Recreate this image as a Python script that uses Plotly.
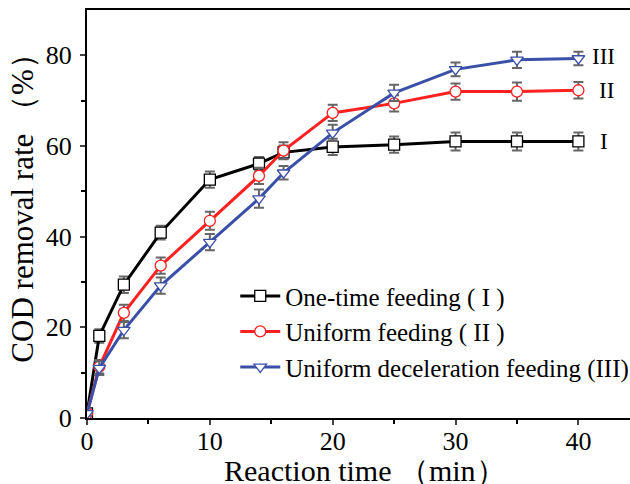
import plotly.graph_objects as go

time = [0, 1, 3, 6, 10, 14, 16, 20, 25, 30, 35, 40]
one_time = [1.0, 18.1, 29.4, 40.9, 52.6, 56.1, 58.6, 59.8, 60.3, 61.0, 61.0, 61.0]
uniform = [1.0, 11.3, 23.2, 33.6, 43.5, 53.4, 59.0, 67.3, 69.4, 72.0, 72.0, 72.3]
decel = [1.0, 11.0, 19.4, 29.2, 38.8, 48.4, 54.1, 62.9, 71.7, 76.9, 79.0, 79.3]
err_one = [0.5, 1.5, 1.8, 1.5, 1.8, 1.5, 1.5, 1.8, 1.8, 2.0, 2.0, 2.0]
err_uni = [0.5, 1.5, 1.8, 1.8, 2.0, 1.8, 1.8, 1.8, 1.8, 1.8, 2.0, 1.8]
err_dec = [0.5, 1.5, 1.8, 1.8, 1.8, 2.0, 1.5, 1.8, 1.8, 1.5, 1.8, 1.5]

names = ["One-time feeding ( I )", "Uniform feeding ( II )", "Uniform deceleration feeding (III)"]
labels = ["I", "II", "III"]
x_title = "Reaction time （min）"
y_title = "COD removal rate （%）"

FONT = "Liberation Serif, Times New Roman, serif"
ERR_COLOR = "#666666"

series = [
    (one_time, err_one, "#000000", "square", names[0]),
    (uniform, err_uni, "#ff2020", "circle", names[1]),
    (decel, err_dec, "#3a4fa8", "triangle-down", names[2]),
]

fig = go.Figure()
for vals, errs, color, sym, name in series:
    fig.add_trace(go.Scatter(
        x=time, y=vals, name=name, mode="lines+markers",
        line=dict(color=color, width=3),
        marker=dict(symbol=sym, size=11, color="white", line=dict(color=color, width=1.3)),
        error_y=dict(type="data", array=errs, visible=True, color=ERR_COLOR, thickness=2, width=5),
    ))

# end labels
for vals, lab, xoff, yoff in zip([one_time, uniform, decel], labels, [26, 28, 25], [0, 0, 2]):
    fig.add_annotation(x=time[-1], y=vals[-1], text=lab, showarrow=False,
                       xanchor="center", yanchor="middle", xshift=xoff, yshift=yoff,
                       font=dict(family=FONT, size=23, color="black"))

# axis titles
fig.add_annotation(x=0.512, y=-0.128, xref="paper", yref="paper", yanchor="middle",
                   text=x_title, showarrow=False, font=dict(family=FONT, size=30, color="black"))
fig.add_annotation(x=-0.118, y=0.535, xref="paper", yref="paper", xanchor="center",
                   yanchor="middle", textangle=-90,
                   text=y_title, showarrow=False, font=dict(family=FONT, size=31, color="black"))

fig.update_layout(
    width=630, height=484,
    margin=dict(l=87, r=0, t=10, b=66, autoexpand=False),
    paper_bgcolor="white", plot_bgcolor="white",
    font=dict(family=FONT, size=25, color="black"),
    showlegend=True,
    legend=dict(x=0.273, y=0.355, xanchor="left", yanchor="top",
                bgcolor="rgba(0,0,0,0)", font=dict(family=FONT, size=25, color="black"),
                itemwidth=40, tracegroupgap=0),
    xaxis=dict(
        range=[0, 44.2], tickvals=[0, 10, 20, 30, 40], ticks="outside", ticklen=5, tickwidth=2,
        showline=True, linecolor="black", linewidth=2, mirror=True, showgrid=False, zeroline=False,
        minor=dict(tickvals=[5, 15, 25, 35], ticks="outside", ticklen=4, tickwidth=2, tickcolor="black"),
        tickfont=dict(family=FONT, size=26), automargin=False, ticklabelstandoff=-6,
    ),
    yaxis=dict(
        range=[0, 90], tickvals=[0, 20, 40, 60, 80], ticks="outside", ticklen=5, tickwidth=2,
        showline=True, linecolor="black", linewidth=2, mirror=False, showgrid=False, zeroline=False,
        minor=dict(tickvals=[10, 30, 50, 70], ticks="outside", ticklen=4, tickwidth=2, tickcolor="black"),
        tickfont=dict(family=FONT, size=26), automargin=False, ticklabelstandoff=3,
    ),
)

fig.write_html("out.html", config={"displayModeBar": False},
               post_script="document.body.style.margin='0';")
